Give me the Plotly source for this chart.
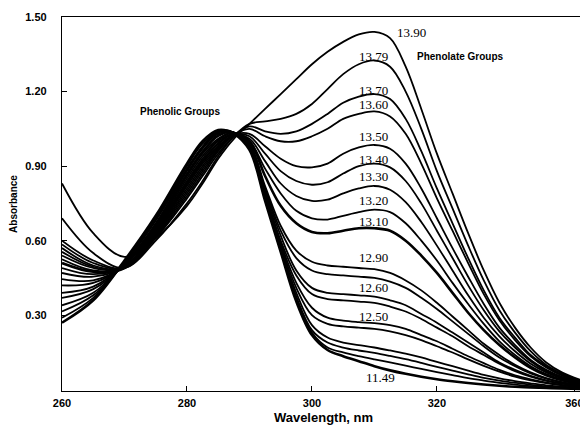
import plotly.graph_objects as go

# Wavelength grid (nm)
wavelength = [260, 265, 270, 275, 280, 282.5, 285, 287.5, 290, 292.5, 295, 297.5, 300,
              302.5, 305, 307.5, 310, 312.5, 315, 317.5, 320, 322.5, 325, 327.5, 330,
              332.5, 335, 337.5, 340, 344]

# Absorbance series, one per pH (unlabeled curves have empty label)
a_1390 = [0.83, 0.63, 0.535, 0.61, 0.74, 0.83, 0.93, 1.01, 1.07, 1.13, 1.19, 1.25, 1.31,
          1.36, 1.40, 1.43, 1.44, 1.415, 1.30, 1.13, 0.95, 0.79, 0.63, 0.48, 0.35,
          0.25, 0.17, 0.11, 0.07, 0.03]
a_1379 = [0.69, 0.55, 0.49, 0.60, 0.75, 0.84, 0.94, 1.02, 1.07, 1.08, 1.09, 1.11, 1.15,
          1.21, 1.27, 1.31, 1.325, 1.30, 1.20, 1.05, 0.88, 0.73, 0.58, 0.44, 0.32,
          0.23, 0.155, 0.10, 0.065, 0.028]
a_1370 = [0.60, 0.52, 0.49, 0.61, 0.77, 0.86, 0.95, 1.02, 1.06, 1.04, 1.03, 1.04, 1.07,
          1.11, 1.155, 1.18, 1.19, 1.17, 1.09, 0.96, 0.81, 0.67, 0.53, 0.40, 0.29,
          0.21, 0.14, 0.095, 0.06, 0.027]
a_1360 = [0.585, 0.51, 0.49, 0.615, 0.78, 0.87, 0.96, 1.025, 1.05, 1.02, 1.0, 1.0, 1.02,
          1.05, 1.09, 1.11, 1.12, 1.10, 1.03, 0.91, 0.77, 0.64, 0.51, 0.385, 0.28,
          0.20, 0.135, 0.09, 0.058, 0.026]
a_1350 = [0.57, 0.50, 0.49, 0.62, 0.79, 0.88, 0.965, 1.025, 1.03, 0.98, 0.93, 0.90, 0.895,
          0.91, 0.95, 0.975, 0.985, 0.97, 0.91, 0.81, 0.69, 0.57, 0.455, 0.345, 0.25,
          0.18, 0.12, 0.08, 0.052, 0.024]
a_1340 = [0.555, 0.495, 0.49, 0.625, 0.80, 0.89, 0.97, 1.025, 1.02, 0.95, 0.88, 0.84, 0.825,
          0.835, 0.87, 0.90, 0.91, 0.895, 0.84, 0.75, 0.64, 0.53, 0.42, 0.32, 0.235,
          0.17, 0.115, 0.075, 0.05, 0.022]
a_1330 = [0.54, 0.49, 0.49, 0.63, 0.81, 0.90, 0.975, 1.025, 1.01, 0.92, 0.83, 0.78, 0.76,
          0.765, 0.79, 0.81, 0.82, 0.805, 0.755, 0.675, 0.58, 0.48, 0.38, 0.29, 0.215,
          0.155, 0.105, 0.07, 0.046, 0.021]
a_1320 = [0.525, 0.48, 0.49, 0.635, 0.82, 0.91, 0.98, 1.025, 1.0, 0.89, 0.79, 0.72, 0.69,
          0.685, 0.70, 0.715, 0.725, 0.715, 0.67, 0.60, 0.52, 0.43, 0.345, 0.265, 0.195,
          0.14, 0.095, 0.063, 0.042, 0.02]
a_1310 = [0.51, 0.475, 0.49, 0.64, 0.83, 0.92, 0.99, 1.03, 1.0, 0.86, 0.74, 0.67, 0.635,
          0.63, 0.64, 0.65, 0.65, 0.64, 0.60, 0.54, 0.47, 0.39, 0.31, 0.24, 0.18,
          0.13, 0.088, 0.058, 0.038, 0.018]
a_1290 = [0.49, 0.465, 0.495, 0.645, 0.84, 0.93, 1.0, 1.03, 0.99, 0.82, 0.66, 0.56, 0.515,
          0.50, 0.495, 0.49, 0.485, 0.47, 0.44, 0.40, 0.35, 0.295, 0.24, 0.185, 0.14,
          0.10, 0.07, 0.047, 0.031, 0.015]
a_u1 = [0.47, 0.455, 0.495, 0.65, 0.85, 0.94, 1.005, 1.035, 0.985, 0.81, 0.64, 0.53, 0.48,
        0.465, 0.46, 0.455, 0.45, 0.435, 0.41, 0.37, 0.325, 0.275, 0.225, 0.175, 0.13,
        0.095, 0.066, 0.045, 0.03, 0.014]
a_1260 = [0.445, 0.44, 0.50, 0.655, 0.86, 0.95, 1.01, 1.035, 0.98, 0.80, 0.62, 0.48, 0.41,
          0.39, 0.385, 0.38, 0.375, 0.36, 0.34, 0.305, 0.27, 0.23, 0.19, 0.15, 0.11,
          0.08, 0.056, 0.038, 0.026, 0.012]
a_u2 = [0.42, 0.43, 0.50, 0.66, 0.865, 0.955, 1.02, 1.035, 0.98, 0.79, 0.60, 0.46, 0.385,
        0.365, 0.36, 0.355, 0.35, 0.335, 0.315, 0.285, 0.25, 0.215, 0.175, 0.14, 0.105,
        0.075, 0.053, 0.036, 0.025, 0.012]
a_1250 = [0.39, 0.415, 0.505, 0.665, 0.87, 0.96, 1.025, 1.035, 0.975, 0.785, 0.59, 0.43, 0.33,
          0.29, 0.278, 0.272, 0.268, 0.26, 0.245, 0.22, 0.195, 0.165, 0.135, 0.107, 0.08,
          0.058, 0.042, 0.029, 0.02, 0.01]
a_u3 = [0.37, 0.405, 0.505, 0.67, 0.88, 0.97, 1.03, 1.035, 0.975, 0.78, 0.58, 0.41, 0.30,
        0.265, 0.255, 0.25, 0.245, 0.235, 0.22, 0.20, 0.175, 0.15, 0.122, 0.096, 0.073,
        0.053, 0.038, 0.027, 0.018, 0.009]
a_u4 = [0.34, 0.39, 0.51, 0.68, 0.885, 0.975, 1.035, 1.035, 0.97, 0.775, 0.57, 0.39, 0.26,
        0.21, 0.19, 0.18, 0.17, 0.158, 0.145, 0.13, 0.112, 0.095, 0.077, 0.06, 0.046,
        0.035, 0.026, 0.018, 0.013, 0.007]
a_u5 = [0.315, 0.38, 0.51, 0.685, 0.89, 0.98, 1.04, 1.035, 0.97, 0.77, 0.565, 0.375, 0.24,
        0.19, 0.17, 0.158, 0.148, 0.136, 0.123, 0.108, 0.092, 0.077, 0.062, 0.048, 0.037,
        0.028, 0.02, 0.014, 0.01, 0.006]
a_u6 = [0.29, 0.37, 0.515, 0.69, 0.90, 0.99, 1.04, 1.035, 0.97, 0.765, 0.56, 0.365, 0.23,
        0.17, 0.15, 0.135, 0.122, 0.11, 0.097, 0.084, 0.071, 0.059, 0.047, 0.037, 0.028,
        0.021, 0.015, 0.011, 0.008, 0.005]
a_1149 = [0.27, 0.36, 0.52, 0.70, 0.91, 1.0, 1.045, 1.03, 0.965, 0.76, 0.555, 0.355, 0.22,
          0.16, 0.135, 0.115, 0.095, 0.078, 0.064, 0.052, 0.042, 0.034, 0.027, 0.021, 0.016,
          0.012, 0.009, 0.007, 0.005, 0.003]

series = [a_1390, a_1379, a_1370, a_1360, a_1350, a_1340, a_1330, a_1320, a_1310,
          a_1290, a_u1, a_1260, a_u2, a_1250, a_u3, a_u4, a_u5, a_u6, a_1149]
series_names = ["13.90", "13.79", "13.70", "13.60", "13.50", "13.40", "13.30", "13.20",
                "13.10", "12.90", "", "12.60", "", "12.50", "", "", "", "", "11.49"]

# Curve labels (text, wavelength, absorbance)
label_text = ["13.90", "13.79", "13.70", "13.60", "13.50", "13.40", "13.30", "13.20",
              "13.10", "12.90", "12.60", "12.50", "11.49"]
label_x = [316.0, 309.8, 309.8, 309.8, 309.8, 309.8, 309.8, 309.8, 309.8, 309.8, 309.8,
           309.8, 311.0]
label_y = [1.438, 1.341, 1.204, 1.147, 1.019, 0.925, 0.857, 0.760, 0.679, 0.533, 0.412,
           0.295, 0.048]

x_tickvals = [260, 280, 300, 320, 342]
x_ticktext = ["260", "280", "300", "320", "360"]
y_tickvals = [0.30, 0.60, 0.90, 1.20, 1.50]
y_ticktext = ["0.30", "0.60", "0.90", "1.20", "1.50"]

fig = go.Figure()
for vals, name in zip(series, series_names):
    w = 2.6 if name in ("13.10", "11.49") else 1.8
    fig.add_trace(go.Scatter(x=wavelength, y=vals, mode="lines", name=name or "curve",
                             line=dict(color="black", width=w, shape="spline", smoothing=1.0),
                             showlegend=False, hoverinfo="skip"))

for t, lx, ly in zip(label_text, label_x, label_y):
    fig.add_annotation(x=lx, y=ly, text=t, showarrow=False, xanchor="center", yanchor="middle",
                       font=dict(family="Liberation Serif", size=13, color="black"))

fig.add_annotation(x=278.9, y=1.119, text="Phenolic Groups", showarrow=False,
                   font=dict(family="Liberation Sans", size=10, color="black", weight="bold"))
fig.add_annotation(x=323.8, y=1.341, text="Phenolate Groups", showarrow=False,
                   font=dict(family="Liberation Sans", size=10, color="black", weight="bold"))

# The page body adds an 8px margin, so the figure is sized to fill the remaining window.
fig.update_layout(
    width=580, height=426,
    margin=dict(l=54, r=3, t=9, b=43, autoexpand=False),
    paper_bgcolor="white", plot_bgcolor="white",
    font=dict(family="Liberation Sans", color="black"),
)
fig.update_xaxes(
    automargin=False,
    range=[260, 343.7], tickvals=x_tickvals, ticktext=x_ticktext,
    ticks="inside", ticklen=5, tickcolor="black", tickwidth=1.2,
    showline=True, linecolor="black", linewidth=1.3, mirror=True,
    showgrid=False, zeroline=False,
    tickfont=dict(family="Liberation Sans", size=11, color="black", weight="bold"),
    ticklabelstandoff=2,
    title=dict(text="Wavelength, nm", standoff=4,
               font=dict(family="Liberation Sans", size=13, color="black", weight="bold")),
)
fig.update_yaxes(
    automargin=False,
    range=[-0.005, 1.5], tickvals=y_tickvals, ticktext=y_ticktext,
    ticks="inside", ticklen=5, tickcolor="black", tickwidth=1.2,
    showline=True, linecolor="black", linewidth=1.3, mirror=True,
    showgrid=False, zeroline=False,
    tickfont=dict(family="Liberation Sans", size=11, color="black", weight="bold"),
    ticklabelstandoff=12,
    title=dict(text="Absorbance", standoff=6,
               font=dict(family="Liberation Sans", size=10, color="black", weight="bold")),
)

fig.write_html("out.html")
